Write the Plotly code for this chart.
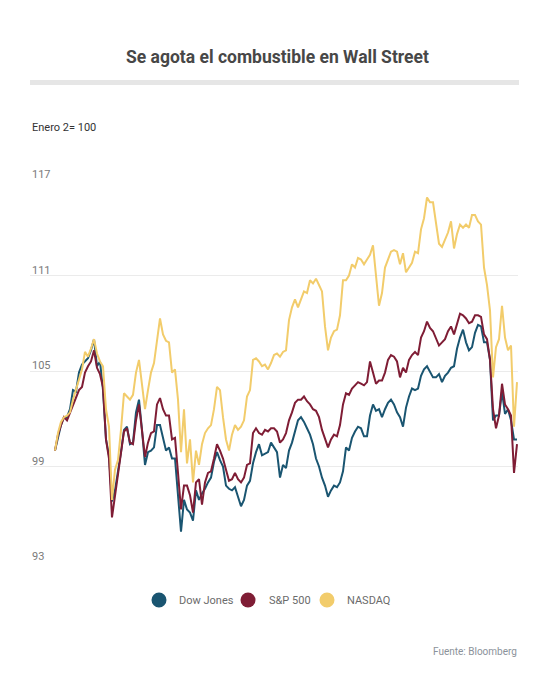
import plotly.graph_objects as go

# Trading-day index (Jan 2 = 0), sampled along the year
dias = list(range(155))

dow_jones = [
    100.0, 100.9, 101.6, 102.1, 102.1, 102.6, 103.8, 103.7, 104.9, 105.4,
    105.6, 105.8, 106.3, 107.0, 105.3, 105.6, 103.8, 100.7, 99.7, 96.8,
    97.5, 98.6, 99.9, 101.3, 101.5, 100.4, 100.5, 102.4, 103.2, 101.3,
    99.1, 99.9, 100.0, 100.2, 101.6, 101.6, 100.7, 100.0, 100.2, 99.5,
    99.5, 97.1, 94.9, 96.9, 96.3, 96.1, 95.6, 97.5, 96.9, 97.3,
    97.6, 98.0, 98.3, 99.3, 99.9, 99.4, 99.0, 97.8, 97.6, 97.5,
    97.7, 97.1, 96.5, 96.9, 97.8, 98.1, 99.2, 99.9, 100.4, 99.7,
    99.8, 99.9, 100.5, 100.2, 99.9, 98.3, 99.1, 98.9, 100.0, 100.5,
    101.3, 101.9, 102.1, 101.8, 101.4, 101.0, 100.4, 99.5, 99.0, 98.3,
    97.8, 97.1, 97.5, 97.8, 97.7, 98.0, 98.7, 100.2, 100.0, 100.8,
    101.2, 101.5, 101.4, 100.9, 100.9, 102.2, 102.9, 102.5, 102.6, 102.1,
    102.6, 103.0, 103.2, 102.9, 102.4, 102.1, 101.5, 102.7, 103.4, 103.9,
    103.8, 103.9, 104.7, 105.1, 105.3, 104.9, 104.6, 104.6, 104.8, 104.3,
    104.7, 104.9, 105.2, 105.3, 106.4, 107.1, 107.6, 106.8, 106.3, 106.5,
    107.4, 107.9, 107.8, 106.8, 106.8, 105.7, 101.9, 102.2, 102.2, 103.7,
    102.3, 102.6, 101.9, 100.7, 100.7,
]

sp500 = [
    100.0, 101.0, 101.6, 102.1, 101.9, 102.4, 102.8, 103.3, 103.8, 104.0,
    104.9, 105.3, 105.6, 106.3, 105.2, 104.8, 104.0, 100.7, 99.5, 95.8,
    97.2, 98.6, 99.7, 101.2, 101.4, 100.5, 100.4, 101.9, 102.9, 101.2,
    99.6, 100.5, 101.1, 101.2, 102.9, 103.3, 102.6, 102.2, 102.2, 100.7,
    100.8, 98.6, 96.3, 97.8, 97.8, 97.2, 96.1, 98.0, 98.2, 96.6,
    98.0, 98.6, 98.7, 99.5, 100.4, 100.0, 99.5, 98.8, 98.1, 98.2,
    98.6, 98.2, 98.0, 98.3, 99.1, 99.2, 101.1, 101.4, 101.1, 101.0,
    101.3, 101.2, 101.4, 101.4, 101.2, 100.5, 100.7, 101.1, 101.9, 102.4,
    103.0, 103.2, 103.2, 103.4, 103.1, 102.9, 102.6, 102.5, 102.1, 101.3,
    100.8, 100.2, 100.7, 101.0, 100.9, 101.6, 102.9, 103.6, 103.5, 103.9,
    104.1, 104.3, 104.2, 104.1, 104.3, 105.6, 104.9, 104.2, 104.4, 104.4,
    104.9, 105.7, 106.0, 105.9, 105.6, 104.6, 105.2, 104.9, 105.7, 106.0,
    106.2, 106.0, 107.1, 107.5, 108.1, 107.7, 107.5, 107.0, 106.6, 106.8,
    107.0, 107.5, 107.8, 107.3, 107.9, 108.6, 108.5, 108.3, 108.0, 108.1,
    108.5, 108.5, 108.4, 107.3, 107.0, 105.7, 102.6, 101.4, 102.2, 104.2,
    102.9, 102.6, 102.2, 98.6, 100.4,
]

nasdaq = [
    100.0, 101.1, 101.8, 102.1, 102.2, 102.4, 103.2, 103.8, 104.4, 105.1,
    106.2, 105.9, 106.4, 107.0, 106.1, 105.6, 105.3, 102.6, 101.5, 96.9,
    98.8, 99.4, 101.3, 103.6, 103.4, 103.2, 103.5, 104.9, 105.7, 104.1,
    102.6, 103.8, 104.9, 105.5, 107.0, 108.3, 107.3, 106.9, 106.8, 104.9,
    105.1, 103.2, 99.9, 102.6, 99.2, 100.7, 98.0, 100.0, 99.1, 100.4,
    101.1, 101.4, 101.6, 102.6, 104.0, 103.8, 102.1, 100.7, 100.0, 101.0,
    101.6, 101.3, 101.5, 101.9, 103.4, 103.8, 105.7, 105.8, 105.6, 105.3,
    105.4, 105.1, 105.5, 106.0, 106.1, 105.9, 106.2, 106.3, 108.2, 109.0,
    109.5, 109.0, 109.5, 110.0, 109.9, 110.7, 110.5, 110.8, 110.4, 110.0,
    107.8, 106.3, 107.1, 107.5, 107.6, 108.5, 110.7, 110.7, 111.0, 111.7,
    111.5, 112.1, 112.0, 111.7, 112.0, 112.3, 112.9, 111.0, 109.1, 109.9,
    111.5, 112.0, 112.5, 112.6, 112.5, 111.7, 112.4, 111.2, 111.5, 111.8,
    112.5, 112.4, 113.9, 114.6, 115.9, 115.6, 115.6, 114.3, 113.0, 112.8,
    113.2, 113.7, 114.4, 112.7, 113.6, 114.2, 114.0, 114.2, 114.0, 114.8,
    114.8, 114.4, 114.2, 111.5, 110.4, 108.8, 104.6, 106.5, 107.0, 109.1,
    107.1, 106.3, 106.6, 101.5, 104.3,
]

series_names = ["Dow Jones", "S&P 500", "NASDAQ"]
series_colors = ["#1a5571", "#7f1d35", "#f2cc6b"]
y_ticks = [93, 99, 105, 111, 117]

# The page body has an 8px margin, so the figure is drawn 8px in from the corner.
OFF = 8
W, H = 550 - OFF, 691 - OFF
ML, MR, MT, MB = 30 - OFF, 32, 180 - OFF, 129
pw = W - ML - MR
ph = H - MT - MB


def px(X):
    """screen x -> paper x"""
    return (X - OFF - ML) / pw


def py(Y):
    """screen y -> paper y"""
    return (H - MB - (Y - OFF)) / ph


fig = go.Figure()
for name, vals, col in zip(series_names, [dow_jones, sp500, nasdaq], series_colors):
    fig.add_trace(go.Scatter(
        x=dias, y=vals, mode="lines", name=name,
        line=dict(color=col, width=2), showlegend=False,
        hoverinfo="skip",
    ))

fig.update_layout(
    width=W, height=H,
    margin=dict(l=ML, r=MR, t=MT, b=MB, autoexpand=False),
    paper_bgcolor="white", plot_bgcolor="white",
    font=dict(family="Roboto, Arial, sans-serif"),
    xaxis=dict(range=[-8.33, 154.33], visible=False, fixedrange=True),
    yaxis=dict(
        range=[93, 117], tickvals=y_ticks, showticklabels=False, ticks="",
        showgrid=True, gridcolor="#ebebeb", gridwidth=1,
        zeroline=False, showline=False, fixedrange=True,
    ),
)

annotations = []
# y tick labels sitting on top of the gridlines, left aligned
for t in y_ticks:
    annotations.append(dict(
        text=str(t), x=0, xanchor="left", xref="paper",
        y=t, yref="y", yanchor="bottom", yshift=-3, showarrow=False,
        font=dict(size=11, color="#7a7a7a"),
    ))

annotations += [
    dict(text="<b>Se agota el combustible en Wall Street</b>",
         x=px(277), xanchor="center", y=py(57), yanchor="middle",
         xref="paper", yref="paper", showarrow=False,
         font=dict(size=17.5, color="#474747")),
    dict(text="Enero 2= 100", x=px(30), xanchor="left", y=py(127), yanchor="middle",
         xref="paper", yref="paper", showarrow=False,
         font=dict(size=11, color="#333333")),
    dict(text="Fuente: Bloomberg", x=px(519), xanchor="right",
         y=py(651), yanchor="middle", xref="paper", yref="paper", showarrow=False,
         font=dict(size=10, color="#8b929a")),
]

shapes = [
    dict(type="rect", xref="paper", yref="paper",
         x0=px(30), x1=px(519), y0=py(85), y1=py(80),
         fillcolor="#e6e6e6", line=dict(width=0), layer="below"),
]

# Custom legend with circle markers
legend_circle_x = [159, 248, 327]
legend_text_x = [177, 267, 345]
for name, col, cx, tx in zip(series_names, series_colors, legend_circle_x, legend_text_x):
    shapes.append(dict(
        type="circle", xref="paper", yref="paper",
        xsizemode="pixel", ysizemode="pixel",
        xanchor=px(cx), yanchor=py(600),
        x0=-7.5, x1=7.5, y0=-7.5, y1=7.5,
        fillcolor=col, line=dict(width=0),
    ))
    annotations.append(dict(
        text=name, x=px(tx), xanchor="left", y=py(600), yanchor="middle",
        xref="paper", yref="paper", showarrow=False,
        font=dict(size=11, color="#6b6b6b"),
    ))

fig.update_layout(annotations=annotations, shapes=shapes)
fig.write_html("out.html")
